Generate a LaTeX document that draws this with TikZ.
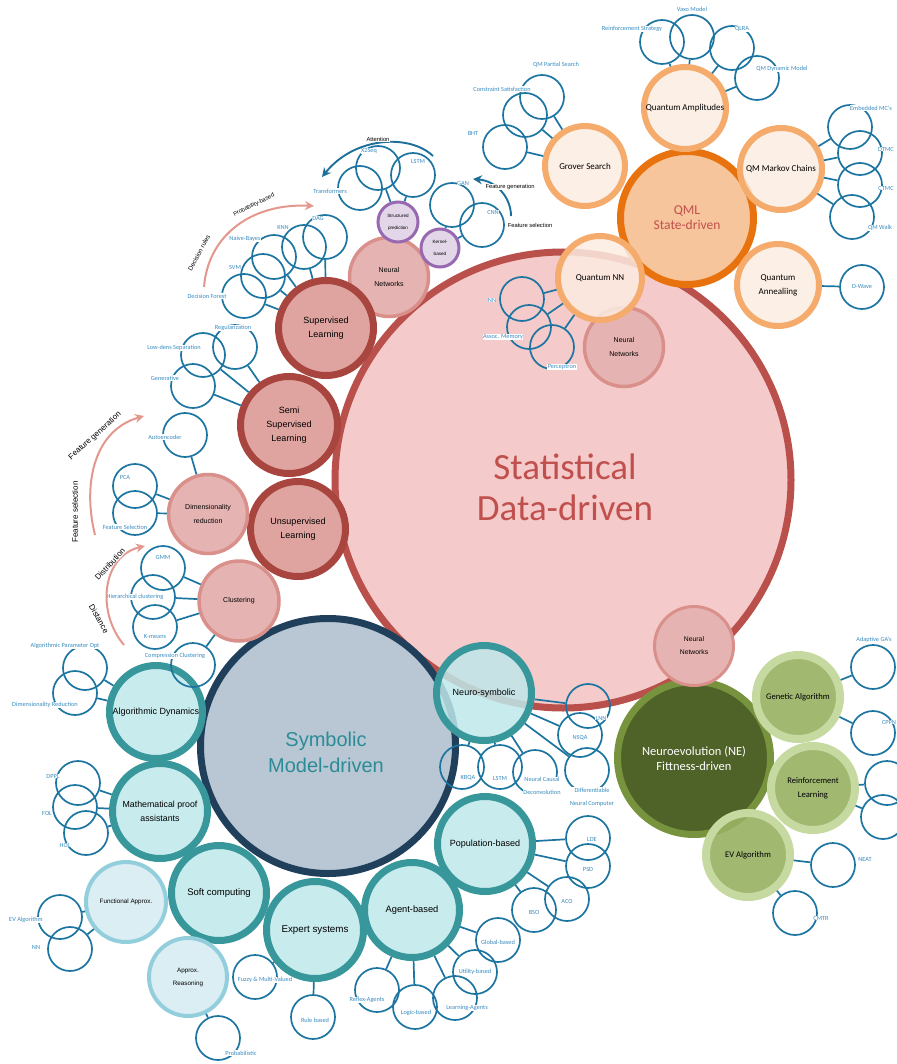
\documentclass[tikz,border=0pt]{standalone}
\usepackage{fontspec}
\setmainfont{Carlito}
\newfontfamily\helv{Liberation Sans}
\usetikzlibrary{arrows.meta}

\definecolor{leafblue}{HTML}{1C74A0}
\definecolor{tagblue}{HTML}{3A8CC0}
\definecolor{statred}{HTML}{B9504C}
\definecolor{stattext}{HTML}{C0504D}
\definecolor{statfill}{HTML}{F5CACA}
\definecolor{suprim}{HTML}{A8453F}
\definecolor{supfill}{HTML}{DFA4A0}
\definecolor{rosefill}{HTML}{E5B4B2}
\definecolor{roserim}{HTML}{D9908B}
\definecolor{purprim}{HTML}{9868B0}
\definecolor{purpfill}{HTML}{E2D6E8}
\definecolor{qmlrim}{HTML}{E8730E}
\definecolor{qmlfill}{HTML}{F7C59B}
\definecolor{qrim}{HTML}{F4AB6B}
\definecolor{qfill}{HTML}{FCECE1}
\definecolor{symrim}{HTML}{1F3F5B}
\definecolor{symfill}{HTML}{B8C7D3}
\definecolor{symtext}{HTML}{2B8C97}
\definecolor{tealrim}{HTML}{38979B}
\definecolor{tealfill}{HTML}{BEE7EA}
\definecolor{paletealrim}{HTML}{93CEDC}
\definecolor{paletealfill}{HTML}{DBEEF3}
\definecolor{nefill}{HTML}{4F6228}
\definecolor{nerim}{HTML}{78933D}
\definecolor{garim}{HTML}{C6D9A0}
\definecolor{gafill}{HTML}{97B062}
\definecolor{salmon}{HTML}{E3978D}
\definecolor{flowblue}{HTML}{1B6F98}

\tikzset{hub/.style={circle, inner sep=0pt, align=center},
suprv/.style={hub, draw=suprim, fill=supfill, line width=7pt, minimum size=95pt, font=\helv\fontsize{9}{14}\selectfont},
rose/.style={hub, draw=roserim, fill=rosefill, line width=3.5pt, minimum size=79pt, font=\helv\fontsize{7}{13.5}\selectfont},
purp/.style={hub, draw=purprim, fill=purpfill, line width=3pt, minimum size=40pt, font=\helv\fontsize{4.6}{12}\selectfont},
qsub/.style={hub, draw=qrim, fill=qfill, line width=6pt, minimum size=82pt, fill opacity=0.85, text opacity=1, font=\fontsize{9}{14}\selectfont},
teal/.style={hub, draw=tealrim, fill=tealfill, line width=7pt, minimum size=95pt, fill opacity=0.85, text opacity=1, font=\helv\fontsize{9}{14}\selectfont},
paleteal/.style={hub, draw=paletealrim, fill=paletealfill, line width=4pt, minimum size=80pt, font=\helv\fontsize{6.3}{13}\selectfont},
gsub/.style={hub, draw=garim, fill=gafill, line width=8pt, minimum size=84pt, fill opacity=0.9, text opacity=1, font=\fontsize{8.6}{14}\selectfont},
leaf/.style={circle, draw=leafblue, line width=1.7pt, minimum size=44pt, inner sep=0pt},
tag/.style={text=tagblue, fill=white, inner sep=0.4pt, align=center, font=\fontsize{6.3}{13}\selectfont},
link/.style={draw=leafblue, line width=1.7pt},
note/.style={fill=white, inner sep=0.4pt, font=\helv\fontsize{5.8}{7}\selectfont},
flow/.style={draw=flowblue, line width=1.9pt, -{Stealth[length=9pt,width=9pt]}},
trend/.style={draw=salmon, line width=2pt, -{Stealth[length=9pt,width=9pt]}}}

\begin{document}
\begin{tikzpicture}[x=1pt,y=-1pt]
\useasboundingbox (0,0) rectangle (896,1064);

% statistical
\node[hub, draw=statred, fill=statfill, line width=7pt, minimum size=456pt] (stat) at (563,480) {};
\node[text=stattext, font=\fontsize{37}{41}\selectfont, align=center] (stat-t) at (565,487) {Statistical\\Data-driven};
\node[rose] (nnr) at (624,347) {Neural\\Networks};

% symbolic and neuroevolution
\node[hub, draw=symrim, fill=symfill, line width=7pt, minimum size=255pt] (sym) at (328,746) {};
\node[text=symtext, font=\helv\fontsize{20}{26}\selectfont, align=center] (sym-t) at (326,752) {Symbolic\\Model-driven};
\node[hub, draw=nerim, fill=nefill, line width=7pt, minimum size=153pt, text=white, font=\fontsize{12.5}{15}\selectfont] (ne) at (694,758) {Neuroevolution (NE)\\Fittness-driven};

% quantum
\node[hub, draw=qmlrim, fill=qmlfill, line width=7pt, minimum size=133pt, text=stattext, font=\fontsize{13.5}{15}\selectfont] (qml) at (687,218) {QML\\State-driven};
\node[qsub] (qamp) at (685,108) {Quantum Amplitudes};
\node[qsub] (qmc) at (781,169) {QM Markov Chains};
\node[qsub] (qann) at (778,285) {Quantum\\Annealiing};
\node[qsub, minimum size=80pt] (grover) at (585,166) {Grover Search};
\node[qsub, minimum size=84pt] (qnn) at (600,278) {Quantum NN};

% learning
\node[rose] (nnt) at (389,277) {Neural\\Networks};
\node[suprv] (sup) at (326,328) {Supervised\\Learning};
\node[suprv, minimum size=97pt] (semi) at (289,425) {Semi\\Supervised\\Learning};
\node[suprv] (unsup) at (298,529) {Unsupervised\\Learning};
\node[rose] (dimred) at (208,514) {Dimensionality\\reduction};
\node[rose, minimum size=80pt] (clust) at (239,601) {Clustering};
\node[purp] (struct) at (398,222) {Structured\\prediction};
\node[purp, minimum size=38pt] (kernel) at (440,248) {Kernel-\\based};

% symbolic branches
\node[teal] (neuro) at (484,693) {Neuro-symbolic};
\node[teal] (pop) at (485,844) {Population-based};
\node[teal, font=\helv\fontsize{9.3}{14}\selectfont] (agent) at (412,910) {Agent-based};
\node[teal, minimum size=97pt, font=\helv\fontsize{9.8}{14}\selectfont] (expert) at (315,930) {Expert systems};
\node[teal, font=\helv\fontsize{9.5}{14}\selectfont] (soft) at (219,893) {Soft computing};
\node[teal, minimum size=93pt] (algo) at (156,712) {Algorithmic Dynamics};
\node[teal, font=\helv\fontsize{8.8}{14}\selectfont] (proof) at (160,811) {Mathematical proof\\assistants};
\node[paleteal] (func) at (126,902) {Functional Approx.};
\node[paleteal, minimum size=78pt] (approx) at (188,977) {Approx.\\Reasoning};

% neuroevolution branches
\node[rose, line width=3pt, font=\helv\fontsize{6.8}{13}\selectfont] (nnb) at (694,646) {Neural\\Networks};
\node[gsub] (ga) at (798,697) {Genetic Algorithm};
\node[gsub] (rl) at (813,788) {Reinforcement\\Learning};
\node[gsub] (ev) at (748,855) {EV Algorithm};

% leaves
\node[leaf] (transf) at (360,188) {};
\foreach \n/\cx/\cy/\p in {dag/325/237/sup, knn/304/247/sup, nbayes/274/257/sup, svm/263/276/sup, dforest/244/296/sup,
  reg/235/347/semi, lowdens/203/355/semi, gener/193/386/semi,
  auto/185/435/dimred, pca/135/486/dimred, fsel/135/513/dimred,
  gmm/163/568/clust, hier/153/597/clust, kmeans/155/627/clust, compr/193/665/clust,
  apo/85/668/algo, dimr/75/693/algo,
  dppl/78/783/proof, fol/75/807/proof, hol/86/833/proof,
  evalg/60/917/func, nnf/70/949/func, prob/218/1038/approx,
  fuzzy/255/977/expert, rule/313/1017/expert,
  reflex/377/990/agent, logic/415/1007/agent, learn/455/998/agent, util/475/972/agent, glob/498/940/agent,
  bso/534/910/pop, aco/567/899/pop, psd/588/866/pop, lde/588/838/pop,
  kbqa/462/767/neuro, lstmb/500/767/neuro, ncd/535/772/neuro, dnc/587/770/neuro, nsqa/580/735/neuro, lnn/588/706/neuro,
  agas/873/667/ga, cppn/873/733/ga, rla/887/783/rl, rlb/883/817/rl, neat/833/865/ev, cmtr/795/913/ev,
  vaxo/692/37/qamp, rstrat/662/42/qamp, qlra/732/48/qamp, qdyn/757/78/qamp,
  emc/850/127/qmc, dtmc/860/153/qmc, ctmc/860/185/qmc, qwalk/852/217/qmc, dwave/862/287/qann,
  qps/542/97/grover, csat/525/115/grover, bht/505/147/grover,
  nnq/522/299/qnn, assoc/529/327/qnn, perc/552/347/qnn,
  x2seq/378/168/struct, lstmt/413/175/struct, gan/452/205/kernel, cnn/482/225/kernel}{
  \node[leaf] (\n) at (\cx,\cy) {};
  \draw[link] (\n) -- (\p);
}

% leaf labels
\foreach \n/\cx/\cy/\t in {dag/318/218/DAG, knn/283/227/KNN, nbayes/245/239/Naive-Bayes, svm/235/267/SVM, dforest/207/296/Decision Forest,
  transf/330/191/Transformers, x2seq/369/151/X2Seq, lstmt/418/161/LSTM, gan/463/183/GAN, cnn/493/212/CNN,
  reg/233/328/Regularization, lowdens/174/348/Low-dens Separation, gener/165/378/Generative,
  auto/165/437/Autoencoder, pca/125/477/PCA, fsel/125/527/Feature Selection,
  gmm/163/557/GMM, hier/135/597/Hierarchical clustering, kmeans/155/636/K-means, compr/175/656/Compression Clustering,
  apo/65/646/Algorithmic Parameter Opt, dimr/45/705/Dimensionality Reduction,
  dppl/53/776/DPPL, fol/47/813/FOL, hol/65/845/HOL,
  evalg/26/920/EV Algorithm, nnf/36/947/NN, prob/241/1053/Probabilistic,
  fuzzy/265/980/Fuzzy \& Multi-Valued, rule/315/1020/Rule based,
  reflex/367/1000/Reflex-Agents, logic/416/1013/Logic-based, learn/467/1008/Learning-Agents, util/475/972/Utility-based, glob/498/942/Global-based,
  bso/534/912/BSO, aco/567/901/ACO, psd/588/869/PSD, lde/592/839/LDE,
  kbqa/468/778/KBQA, lstmb/500/778/LSTM, ncd/542/786/Neural Causal\\Deconvolution, dnc/592/797/Differentiable\\Neural Computer, nsqa/580/738/NSQA, lnn/601/718/LNN,
  agas/874/640/Adaptive GA's, cppn/889/722/CPPN, neat/865/859/NEAT, cmtr/821/918/CMTR,
  vaxo/692/9/Vaxo Model, rstrat/632/29/Reinforcement Strategy, qlra/742/29/QLRA, qdyn/782/69/QM Dynamic Model,
  emc/871/108/Embedded MC's, dtmc/886/149/DTMC, ctmc/886/188/CTMC, qwalk/880/228/QM Walk, dwave/862/287/D-Wave,
  qps/556/65/QM Partial Search, csat/502/89/Constraint Satisfaction, bht/473/133/BHT,
  nnq/492/300/NN, assoc/503/337/Assoc. Memory, perc/562/367/Perceptron}{
  \node[tag] (\n-t) at (\cx,\cy) {\t};
}

% arrows
\coordinate (att-s) at (433,156);
\coordinate (att-e) at (322,177);
\draw[flow] (att-s) .. controls (410,134) and (355,136) .. (att-e);
\node[note] (att) at (378,139) {Attention};
\coordinate (fg-s) at (511,216);
\coordinate (fg-e) at (473,179);
\draw[flow] (fg-s) .. controls (511,198) and (497,181) .. (fg-e);
\node[note] (fgen) at (510,187) {Feature generation};
\node[note] (fselr) at (530,225) {Feature selection};

\coordinate (dr-s) at (204,287);
\coordinate (dr-e) at (314,206);
\draw[trend] (dr-s) .. controls (208,235) and (252,203) .. (dr-e);
\node[note, font=\helv\fontsize{6.3}{7}\selectfont, rotate=62] (drule) at (199,253) {Decision rules};
\node[note, rotate=26] (pbased) at (254,205) {Probability-based};
\coordinate (fs-s) at (95,535);
\coordinate (fs-e) at (144,416);
\draw[trend] (fs-s) .. controls (82,482) and (95,430) .. (fs-e);
\node[note, font=\helv\fontsize{8}{9}\selectfont, rotate=90] (fsell) at (75,512) {Feature selection};
\node[note, font=\helv\fontsize{8}{9}\selectfont, rotate=42] (fgenl) at (95,436) {Feature generation};
\coordinate (ds-s) at (124,645);
\coordinate (ds-e) at (145,546);
\draw[trend] (ds-s) .. controls (96,612) and (102,556) .. (ds-e);
\node[note, font=\helv\fontsize{8}{9}\selectfont, rotate=47] (distr) at (110,564) {Distribution};
\node[note, font=\helv\fontsize{8}{9}\selectfont, rotate=-60] (dist) at (99,619) {Distance};

\end{tikzpicture}
\end{document}
